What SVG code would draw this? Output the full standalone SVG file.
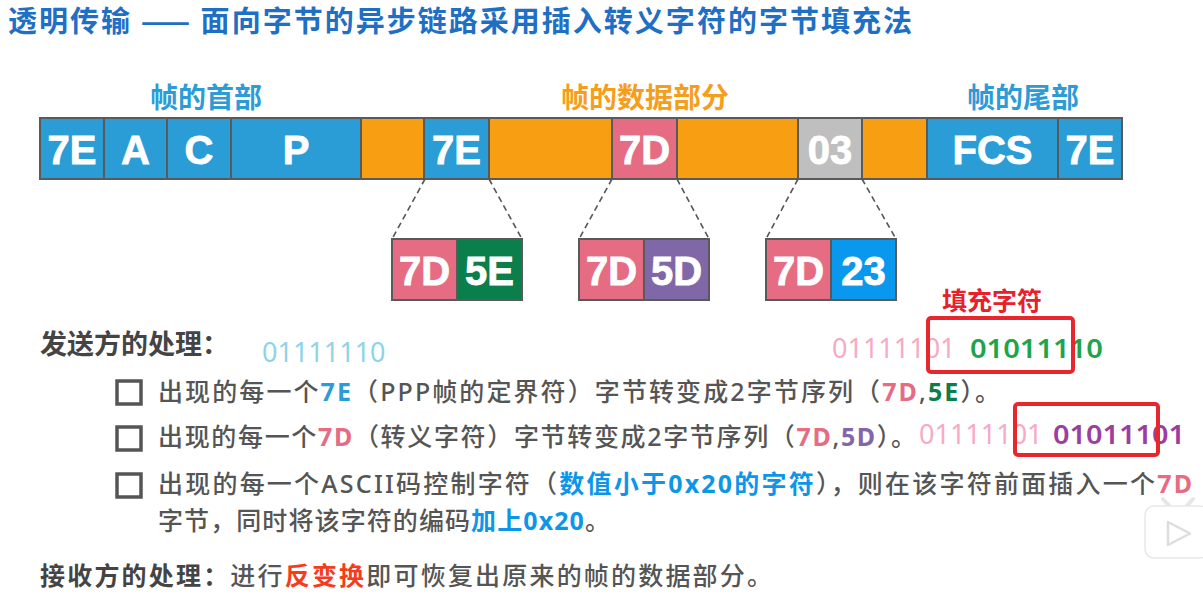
<svg xmlns="http://www.w3.org/2000/svg" width="1203" height="606" viewBox="0 0 1203 606">
  <style>
    .cjk { font-family: "Noto Sans CJK SC", "Noto Sans", sans-serif; }
    .txt { font-family: "Noto Sans", "Noto Sans CJK SC", sans-serif; }
    .title { font-size: 29px; font-weight: bold; fill: #1f6fc4; }
    .hdr { font-size: 28px; font-weight: bold; text-anchor: middle; }
    .cell { stroke: #5a5a5a; stroke-width: 2; }
    .byte { font-family: "Liberation Sans", Arial, sans-serif; font-size: 40px; font-weight: bold; fill: #ffffff; stroke: #ffffff; stroke-width: 0.8; text-anchor: middle; }
    .blue { fill: #2a9dd6; }
    .orange { fill: #f79e12; }
    .pink { fill: #e56c83; }
    .gray { fill: #bfbfbf; }
    .green { fill: #0a7f4b; }
    .purple { fill: #8068a8; }
    .sky { fill: #0a97ee; }
    .zoomline { stroke: #555555; stroke-width: 1.6; stroke-dasharray: 6 4; fill: none; }
    .body { font-size: 25px; font-weight: 500; fill: #555555; }
    .lead { font-size: 27px; font-weight: bold; fill: #444444; }
    .bits { font-family: "Noto Sans", "DejaVu Sans", sans-serif; font-size: 27px; }
    .box { fill: none; stroke: #555555; stroke-width: 3.5; }
    .mark { fill: none; stroke: #e8262e; stroke-width: 4; }
  </style>

  <!-- heading -->
  <text class="cjk title" x="8" y="32" textLength="904" lengthAdjust="spacing">透明传输 —— 面向字节的异步链路采用插入转义字符的字节填充法</text>

  <!-- section labels above the frame -->
  <g id="labels" class="cjk">
    <text class="hdr" x="206" y="108" fill="#2d9bd6">帧的首部</text>
    <text class="hdr" x="645" y="108" fill="#f59e1b">帧的数据部分</text>
    <text class="hdr" x="1023" y="108" fill="#2d9bd6">帧的尾部</text>
  </g>

  <!-- PPP frame -->
  <g id="frame">
    <rect class="cell blue" x="40" y="118" width="64" height="61"/>
    <rect class="cell blue" x="104" y="118" width="63" height="61"/>
    <rect class="cell blue" x="167" y="118" width="64" height="61"/>
    <rect class="cell blue" x="231" y="118" width="130" height="61"/>
    <rect class="cell orange" x="361" y="118" width="63" height="61"/>
    <rect class="cell blue" x="424" y="118" width="65" height="61"/>
    <rect class="cell orange" x="489" y="118" width="123" height="61"/>
    <rect class="cell pink" x="612" y="118" width="65" height="61"/>
    <rect class="cell orange" x="677" y="118" width="121" height="61"/>
    <rect class="cell gray" x="798" y="118" width="64" height="61"/>
    <rect class="cell orange" x="862" y="118" width="65" height="61"/>
    <rect class="cell blue" x="927" y="118" width="131" height="61"/>
    <rect class="cell blue" x="1058" y="118" width="64" height="61"/>
    <text class="byte" x="72" y="164">7E</text>
    <text class="byte" x="135.5" y="164">A</text>
    <text class="byte" x="199" y="164">C</text>
    <text class="byte" x="296" y="164">P</text>
    <text class="byte" x="456.5" y="164">7E</text>
    <text class="byte" x="644.5" y="164">7D</text>
    <text class="byte" x="830" y="164">03</text>
    <text class="byte" x="992.5" y="164">FCS</text>
    <text class="byte" x="1090" y="164">7E</text>
  </g>

  <!-- dashed expansion guides -->
  <g id="connectors">
    <path class="zoomline" d="M425 179 L392 239 M489 179 L522 239"/>
    <path class="zoomline" d="M612 179 L579 239 M677 179 L709 239"/>
    <path class="zoomline" d="M798 179 L766 239 M862 179 L896 239"/>
  </g>

  <!-- escaped byte pairs -->
  <g id="pair-7e">
    <rect class="cell pink" x="392" y="239" width="65" height="61"/>
    <rect class="cell green" x="457" y="239" width="65" height="61"/>
    <text class="byte" x="424.5" y="285">7D</text>
    <text class="byte" x="489.5" y="285">5E</text>
  </g>
  <g id="pair-7d">
    <rect class="cell pink" x="579" y="239" width="65" height="61"/>
    <rect class="cell purple" x="644" y="239" width="65" height="61"/>
    <text class="byte" x="611.5" y="285">7D</text>
    <text class="byte" x="676.5" y="285">5D</text>
  </g>
  <g id="pair-03">
    <rect class="cell pink" x="766" y="239" width="65" height="61"/>
    <rect class="cell sky" x="831" y="239" width="65" height="61"/>
    <text class="byte" x="798.5" y="285">7D</text>
    <text class="byte" x="863.5" y="285">23</text>
  </g>

  <!-- sender rules -->
  <g id="sender" class="txt">
    <text class="lead" x="40" y="354">发送方的处理：</text>
    <text class="bits" x="262" y="362" fill="#8fd3ea">01111110</text>

    <rect class="box" x="117" y="381" width="24" height="23"/>
    <text class="body" x="158" y="401" textLength="842" lengthAdjust="spacing">出现的每一个<tspan fill="#2a9dd6" font-weight="bold">7E</tspan>（PPP帧的定界符）字节转变成2字节序列（<tspan fill="#e56c83" font-weight="bold">7D</tspan>,<tspan fill="#0a7f4b" font-weight="bold">5E</tspan>）。</text>

    <rect class="box" x="117" y="427" width="24" height="23"/>
    <text class="body" x="158" y="446" textLength="758" lengthAdjust="spacing">出现的每一个<tspan fill="#e56c83" font-weight="bold">7D</tspan>（转义字符）字节转变成2字节序列（<tspan fill="#e56c83" font-weight="bold">7D</tspan>,<tspan fill="#8068a8" font-weight="bold">5D</tspan>）。</text>

    <rect class="box" x="117" y="474" width="24" height="23"/>
    <text class="body" x="158" y="493" textLength="1034" lengthAdjust="spacing">出现的每一个ASCII码控制字符（<tspan fill="#0d96e8" font-weight="bold">数值小于0x20的字符</tspan>），则在该字符前面插入一个<tspan fill="#e56c83" font-weight="bold">7D</tspan></text>
    <text class="body" x="158" y="530" textLength="452" lengthAdjust="spacing">字节，同时将该字符的编码<tspan fill="#0d96e8" font-weight="bold">加上0x20</tspan>。</text>
  </g>

  <!-- stuffed bit patterns -->
  <g id="stuffing">
    <text class="cjk" x="942" y="310" font-size="25" font-weight="bold" fill="#e8202a">填充字符</text>
    <text class="bits" x="832" y="358" fill="#f8a9c3">01111101</text>
    <text class="bits" x="970" y="358" font-size="29" font-weight="600" fill="#1ea54b" textLength="133" lengthAdjust="spacingAndGlyphs">01011110</text>
    <text class="bits" x="919" y="444" fill="#f8a9c3">01111101</text>
    <text class="bits" x="1053" y="444" font-size="29" font-weight="600" fill="#9b3ea0" textLength="132" lengthAdjust="spacingAndGlyphs">01011101</text>
    <rect class="mark" x="928" y="318" width="145" height="54" rx="3"/>
    <rect class="mark" x="1015" y="404" width="143" height="51" rx="3"/>
  </g>

  <!-- receiver rule -->
  <g id="receiver" class="txt">
    <text x="40" y="585" font-size="25" textLength="732" lengthAdjust="spacing"><tspan font-weight="bold" fill="#444444">接收方的处理：</tspan><tspan fill="#555555" font-weight="500">进行</tspan><tspan fill="#f53c1c" font-weight="bold">反变换</tspan><tspan fill="#555555" font-weight="500">即可恢复出原来的帧的数据部分。</tspan></text>
  </g>

  <!-- corner play badge -->
  <g id="badge" opacity="0.9">
    <path d="M1163 499 L1171 508 M1193 499 L1185 508" stroke="#e4e4e4" stroke-width="4" stroke-linecap="round" fill="none"/>
    <rect x="1145" y="506" width="64" height="52" rx="9" fill="#ffffff" stroke="#e6e6e6" stroke-width="1.5"/>
    <path d="M1168 522 L1168 545 L1190 533.5 Z" fill="#ffffff" stroke="#dadada" stroke-width="2.5" stroke-linejoin="round"/>
  </g>
</svg>
